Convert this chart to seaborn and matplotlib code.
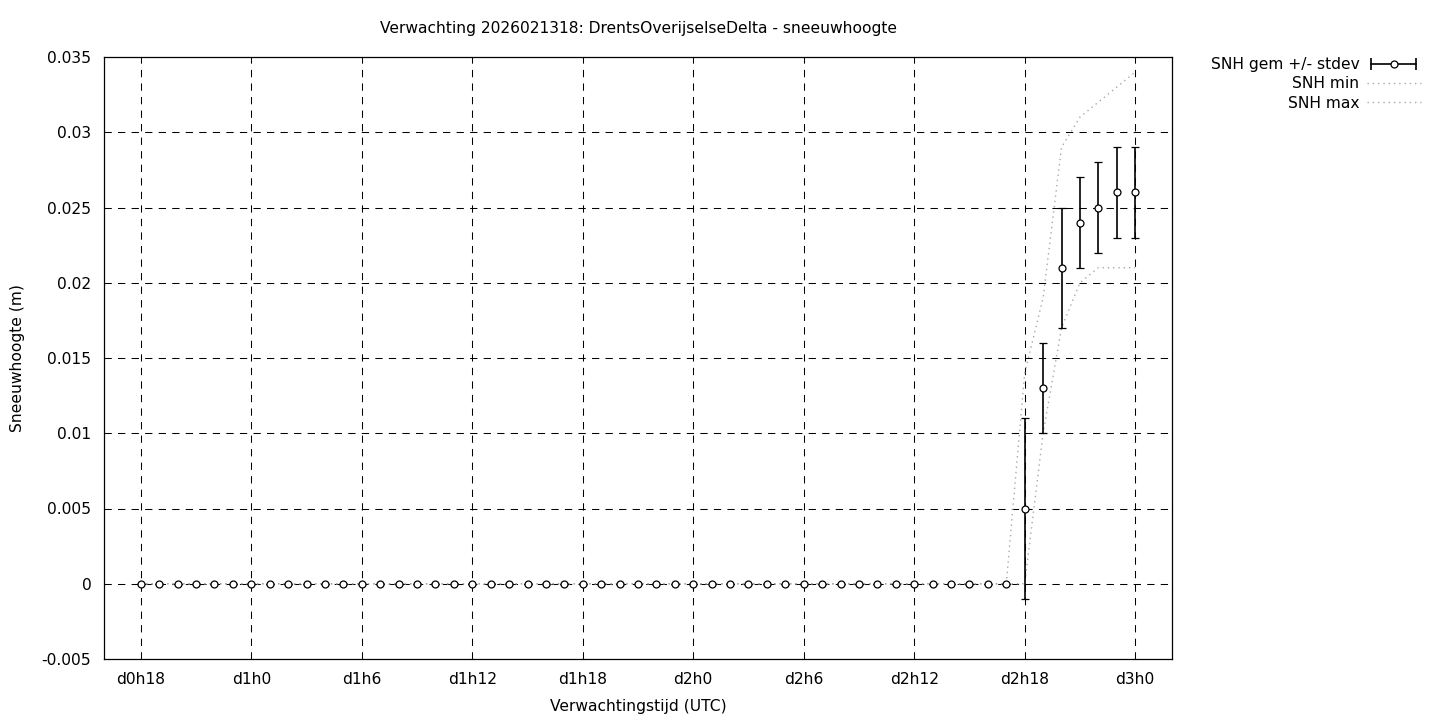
import matplotlib
matplotlib.use("Agg")
import matplotlib.pyplot as plt
from matplotlib.lines import Line2D
from matplotlib.legend_handler import HandlerLine2D, HandlerTuple
import seaborn as sns
import pandas as pd

# forecast hours after d0h18 (one point per hour)
hours = list(range(55))

snh_mean = [
    0.0, 0.0, 0.0, 0.0, 0.0, 0.0, 0.0, 0.0, 0.0, 0.0, 0.0, 0.0,
    0.0, 0.0, 0.0, 0.0, 0.0, 0.0, 0.0, 0.0, 0.0, 0.0, 0.0, 0.0,
    0.0, 0.0, 0.0, 0.0, 0.0, 0.0, 0.0, 0.0, 0.0, 0.0, 0.0, 0.0,
    0.0, 0.0, 0.0, 0.0, 0.0, 0.0, 0.0, 0.0, 0.0, 0.0, 0.0, 0.0,
    0.005, 0.013, 0.021, 0.024, 0.025, 0.026, 0.026,
]
snh_std = [
    0.0, 0.0, 0.0, 0.0, 0.0, 0.0, 0.0, 0.0, 0.0, 0.0, 0.0, 0.0,
    0.0, 0.0, 0.0, 0.0, 0.0, 0.0, 0.0, 0.0, 0.0, 0.0, 0.0, 0.0,
    0.0, 0.0, 0.0, 0.0, 0.0, 0.0, 0.0, 0.0, 0.0, 0.0, 0.0, 0.0,
    0.0, 0.0, 0.0, 0.0, 0.0, 0.0, 0.0, 0.0, 0.0, 0.0, 0.0, 0.0,
    0.006, 0.003, 0.004, 0.003, 0.003, 0.003, 0.003,
]
snh_min = [
    0.0, 0.0, 0.0, 0.0, 0.0, 0.0, 0.0, 0.0, 0.0, 0.0, 0.0, 0.0,
    0.0, 0.0, 0.0, 0.0, 0.0, 0.0, 0.0, 0.0, 0.0, 0.0, 0.0, 0.0,
    0.0, 0.0, 0.0, 0.0, 0.0, 0.0, 0.0, 0.0, 0.0, 0.0, 0.0, 0.0,
    0.0, 0.0, 0.0, 0.0, 0.0, 0.0, 0.0, 0.0, 0.0, 0.0, 0.0, 0.0,
    0.0, 0.010, 0.017, 0.020, 0.021, 0.021, 0.021,
]
snh_max = [
    0.0, 0.0, 0.0, 0.0, 0.0, 0.0, 0.0, 0.0, 0.0, 0.0, 0.0, 0.0,
    0.0, 0.0, 0.0, 0.0, 0.0, 0.0, 0.0, 0.0, 0.0, 0.0, 0.0, 0.0,
    0.0, 0.0, 0.0, 0.0, 0.0, 0.0, 0.0, 0.0, 0.0, 0.0, 0.0, 0.0,
    0.0, 0.0, 0.0, 0.0, 0.0, 0.0, 0.0, 0.0, 0.0, 0.0, 0.0, 0.0,
    0.014, 0.019, 0.029, 0.031, 0.032, 0.033, 0.034,
]

tick_hours = [0, 6, 12, 18, 24, 30, 36, 42, 48, 54]
tick_labels = ["d0h18", "d1h0", "d1h6", "d1h12", "d1h18",
               "d2h0", "d2h6", "d2h12", "d2h18", "d3h0"]
y_ticks = [-0.005, 0, 0.005, 0.01, 0.015, 0.02, 0.025, 0.03, 0.035]
y_tick_labels = ["-0.005", "0", "0.005", "0.01", "0.015", "0.02", "0.025", "0.03", "0.035"]

df = pd.DataFrame({"uur": hours, "gem": snh_mean, "std": snh_std,
                   "min": snh_min, "max": snh_max})

sns.set_style("white")
plt.rcParams["font.family"] = ["DejaVu Sans"]
plt.rcParams["font.size"] = 11.2
plt.rcParams["text.color"] = "black"
plt.rcParams["axes.labelcolor"] = "black"

fig = plt.figure(figsize=(14.4, 7.2), dpi=100)
ax = fig.add_axes([104 / 1440, 1 - 659 / 720, (1172 - 104) / 1440, (659 - 57) / 720])

grid_kw = dict(color="black", lw=0.75, linestyle=(0, (7, 6)), zorder=0)
for t in tick_hours:
    ax.axvline(t, **grid_kw)
for yv in y_ticks[1:-1]:
    ax.axhline(yv, **grid_kw)

dotted = dict(color="#a8a8a8", lw=1.0, linestyle=(0, (1, 2.8)))
sns.lineplot(data=df, x="uur", y="min", ax=ax, zorder=2, **dotted)
sns.lineplot(data=df, x="uur", y="max", ax=ax, zorder=2, **dotted)

ax.errorbar(df["uur"], df["gem"], yerr=df["std"], fmt="o", color="black",
            ecolor="black", elinewidth=1.2, capsize=3, capthick=1.2,
            markersize=5, markerfacecolor="white", markeredgecolor="black",
            markeredgewidth=0.9, zorder=3)

ax.set_xlim(-2, 56)
ax.set_ylim(-0.005, 0.035)
ax.set_xticks(tick_hours)
ax.set_xticklabels(tick_labels)
ax.set_yticks(y_ticks)
ax.set_yticklabels(y_tick_labels)
ax.tick_params(axis="both", direction="in", length=0, pad=9, labelsize=11.2, colors="black")
for sp in ax.spines.values():
    sp.set_color("black")
    sp.set_linewidth(0.9)

ax.set_xlabel("Verwachtingstijd (UTC)", fontsize=11.2, labelpad=9)
ax.set_ylabel("Sneeuwhoogte (m)", fontsize=11.2, labelpad=12)
fig.text(638 / 1440, 1 - 29 / 720, "Verwachting 2026021318: DrentsOverijselseDelta - sneeuwhoogte",
         ha="center", va="center", fontsize=11.2)

# legend: gnuplot style errorbar sample (horizontal bar with caps and circle)
bar_h = Line2D([], [], color="black", lw=1.2, marker="|", markersize=8, markeredgewidth=1.2)
dot_h = Line2D([], [], color="black", lw=0, marker="o", markersize=5,
               markerfacecolor="white", markeredgewidth=0.9)
min_h = Line2D([], [], **dotted)
max_h = Line2D([], [], **dotted)
fig.legend([(bar_h, dot_h), min_h, max_h], ["SNH gem +/- stdev", "SNH min", "SNH max"],
           loc="upper right", bbox_to_anchor=(1421 / 1440, 1 - 57 / 720),
           handler_map={bar_h: HandlerLine2D(numpoints=2), dot_h: HandlerLine2D(numpoints=1),
                        tuple: HandlerTuple(ndivide=1)},
           markerfirst=False, frameon=False, fontsize=11.2, handlelength=3.5,
           labelspacing=0.28, borderaxespad=0, borderpad=0, handletextpad=0.45)

fig.savefig("out.png", dpi=100)
